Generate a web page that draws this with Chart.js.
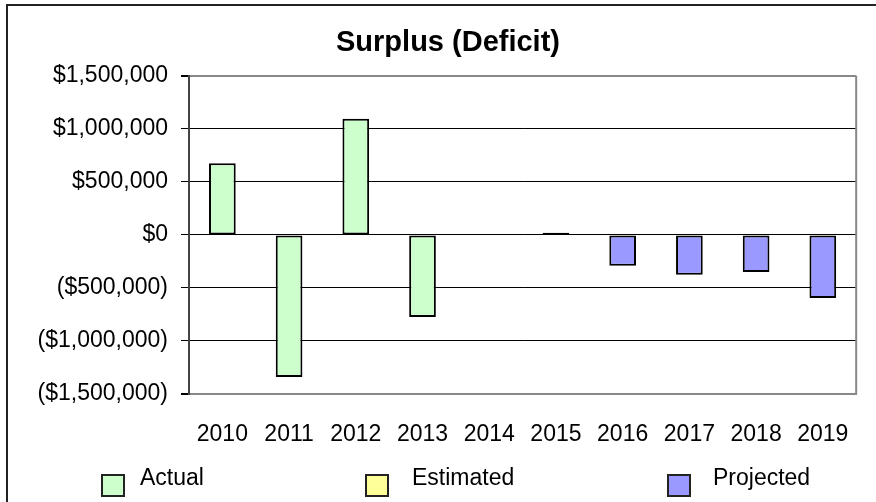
<!DOCTYPE html>
<html>
<head>
<meta charset="utf-8">
<script src="https://cdn.jsdelivr.net/npm/chart.js@4.4.1/dist/chart.umd.min.js"></script>
<style>
  body { margin: 0; background: #fff; }
  #wrap { width: 876px; height: 502px; }
</style>
</head>
<body>
<div id="wrap"><canvas id="surplus-chart" width="876" height="502"></canvas></div>
<script>
// Chart data
const years = ['2010', '2011', '2012', '2013', '2014', '2015', '2016', '2017', '2018', '2019'];
const actual = [675000, -1340000, 1095000, -775000, null, null, null, null, null, null];
const estimated = [null, null, null, null, 0, 20000, null, null, null, null];
const projected = [null, null, null, null, null, null, -290000, -375000, -350000, -595000];
const yTicks = [-1500000, -1000000, -500000, 0, 500000, 1000000, 1500000];

const FONT = '"Liberation Sans", Arial, sans-serif';

function formatMoney(value) {
  const s = '$' + Math.abs(value).toLocaleString('en-US');
  return value < 0 ? '(' + s + ')' : s;
}

// Outer frame, plot frame and the spread-out legend
const framePlugin = {
  id: 'frame',
  beforeDraw(chart) {
    const ctx = chart.ctx;
    ctx.save();
    ctx.fillStyle = '#fff';
    ctx.fillRect(0, 0, chart.width, chart.height);
    ctx.strokeStyle = '#222';
    ctx.lineWidth = 2;
    ctx.strokeRect(7, 5, chart.width + 20, chart.height + 20);
    ctx.restore();
  },
  afterDraw(chart) {
    const ctx = chart.ctx;
    const a = chart.chartArea;
    ctx.save();
    ctx.strokeStyle = '#888';
    ctx.lineWidth = 2;
    ctx.beginPath();
    ctx.moveTo(a.right, a.top);
    ctx.lineTo(a.right, a.bottom);
    ctx.stroke();
    ctx.restore();
  }
};

const legendPlugin = {
  id: 'spreadLegend',
  afterDraw(chart, args, opts) {
    const ctx = chart.ctx;
    ctx.save();
    ctx.font = '23px ' + FONT;
    ctx.textBaseline = 'middle';
    ctx.lineWidth = 2;
    chart.data.datasets.forEach((ds, i) => {
      const slot = opts.slots[i];
      ctx.fillStyle = ds.backgroundColor;
      ctx.fillRect(slot.box, opts.boxTop, opts.boxW, opts.boxH);
      ctx.strokeStyle = '#222';
      ctx.strokeRect(slot.box, opts.boxTop, opts.boxW, opts.boxH);
      ctx.fillStyle = '#000';
      ctx.fillText(ds.label, slot.text, opts.textY);
    });
    ctx.restore();
  }
};

const ctx = document.getElementById('surplus-chart').getContext('2d');
const chart = new Chart(ctx, {
  type: 'bar',
  data: {
    labels: years,
    datasets: [{
      label: 'Actual',
      data: actual,
      backgroundColor: '#ccffcc',
      borderColor: '#000',
      borderWidth: 2,
      borderSkipped: false
    }, {
      label: 'Estimated',
      data: estimated,
      backgroundColor: '#ffff99',
      borderColor: '#000',
      borderWidth: 2,
      borderSkipped: false
    }, {
      label: 'Projected',
      data: projected,
      backgroundColor: '#9999ff',
      borderColor: '#000',
      borderWidth: 2,
      borderSkipped: false
    }]
  },
  options: {
    responsive: false,
    animation: false,
    categoryPercentage: 1,
    barPercentage: 0.4,
    layout: {
      padding: { left: 32, right: 12, top: 0, bottom: 0 }
    },
    plugins: {
      legend: { display: false },
      tooltip: { enabled: false },
      title: {
        display: true,
        text: 'Surplus (Deficit)',
        color: '#000',
        font: { family: FONT, size: 29, weight: 'bold', lineHeight: 1.2 },
        padding: { top: 26, bottom: 15 }
      },
      spreadLegend: {
        slots: [{ box: 102, text: 140 }, { box: 366, text: 412 }, { box: 668, text: 713 }],
        boxTop: 475,
        boxW: 22,
        boxH: 21,
        textY: 479
      }
    },
    scales: {
      x: {
        stacked: true,
        grid: { display: false, drawTicks: false },
        border: { color: '#888', width: 2 },
        ticks: {
          color: '#000',
          padding: 27,
          maxRotation: 0,
          font: { family: FONT, size: 23 }
        },
        afterFit: function(scale) { scale.height = 108; }
      },
      y: {
        stacked: true,
        min: -1500000,
        max: 1500000,
        afterBuildTicks: function(scale) {
          scale.ticks = yTicks.map(v => ({ value: v }));
        },
        afterFit: function(scale) { scale.width = 157; },
        border: { color: '#444', width: 2 },
        grid: {
          color: function(c) {
            return Math.abs(c.tick.value) === 1500000 ? '#888' : '#000';
          },
          lineWidth: function(c) {
            return Math.abs(c.tick.value) === 1500000 ? 2 : 1;
          },
          tickColor: '#000',
          tickLength: 8
        },
        ticks: {
          color: '#000',
          padding: 13,
          font: { family: FONT, size: 23 },
          callback: function(value) {
            return formatMoney(value);
          }
        }
      }
    }
  },
  plugins: [framePlugin, legendPlugin]
});
</script>
</body>
</html>
